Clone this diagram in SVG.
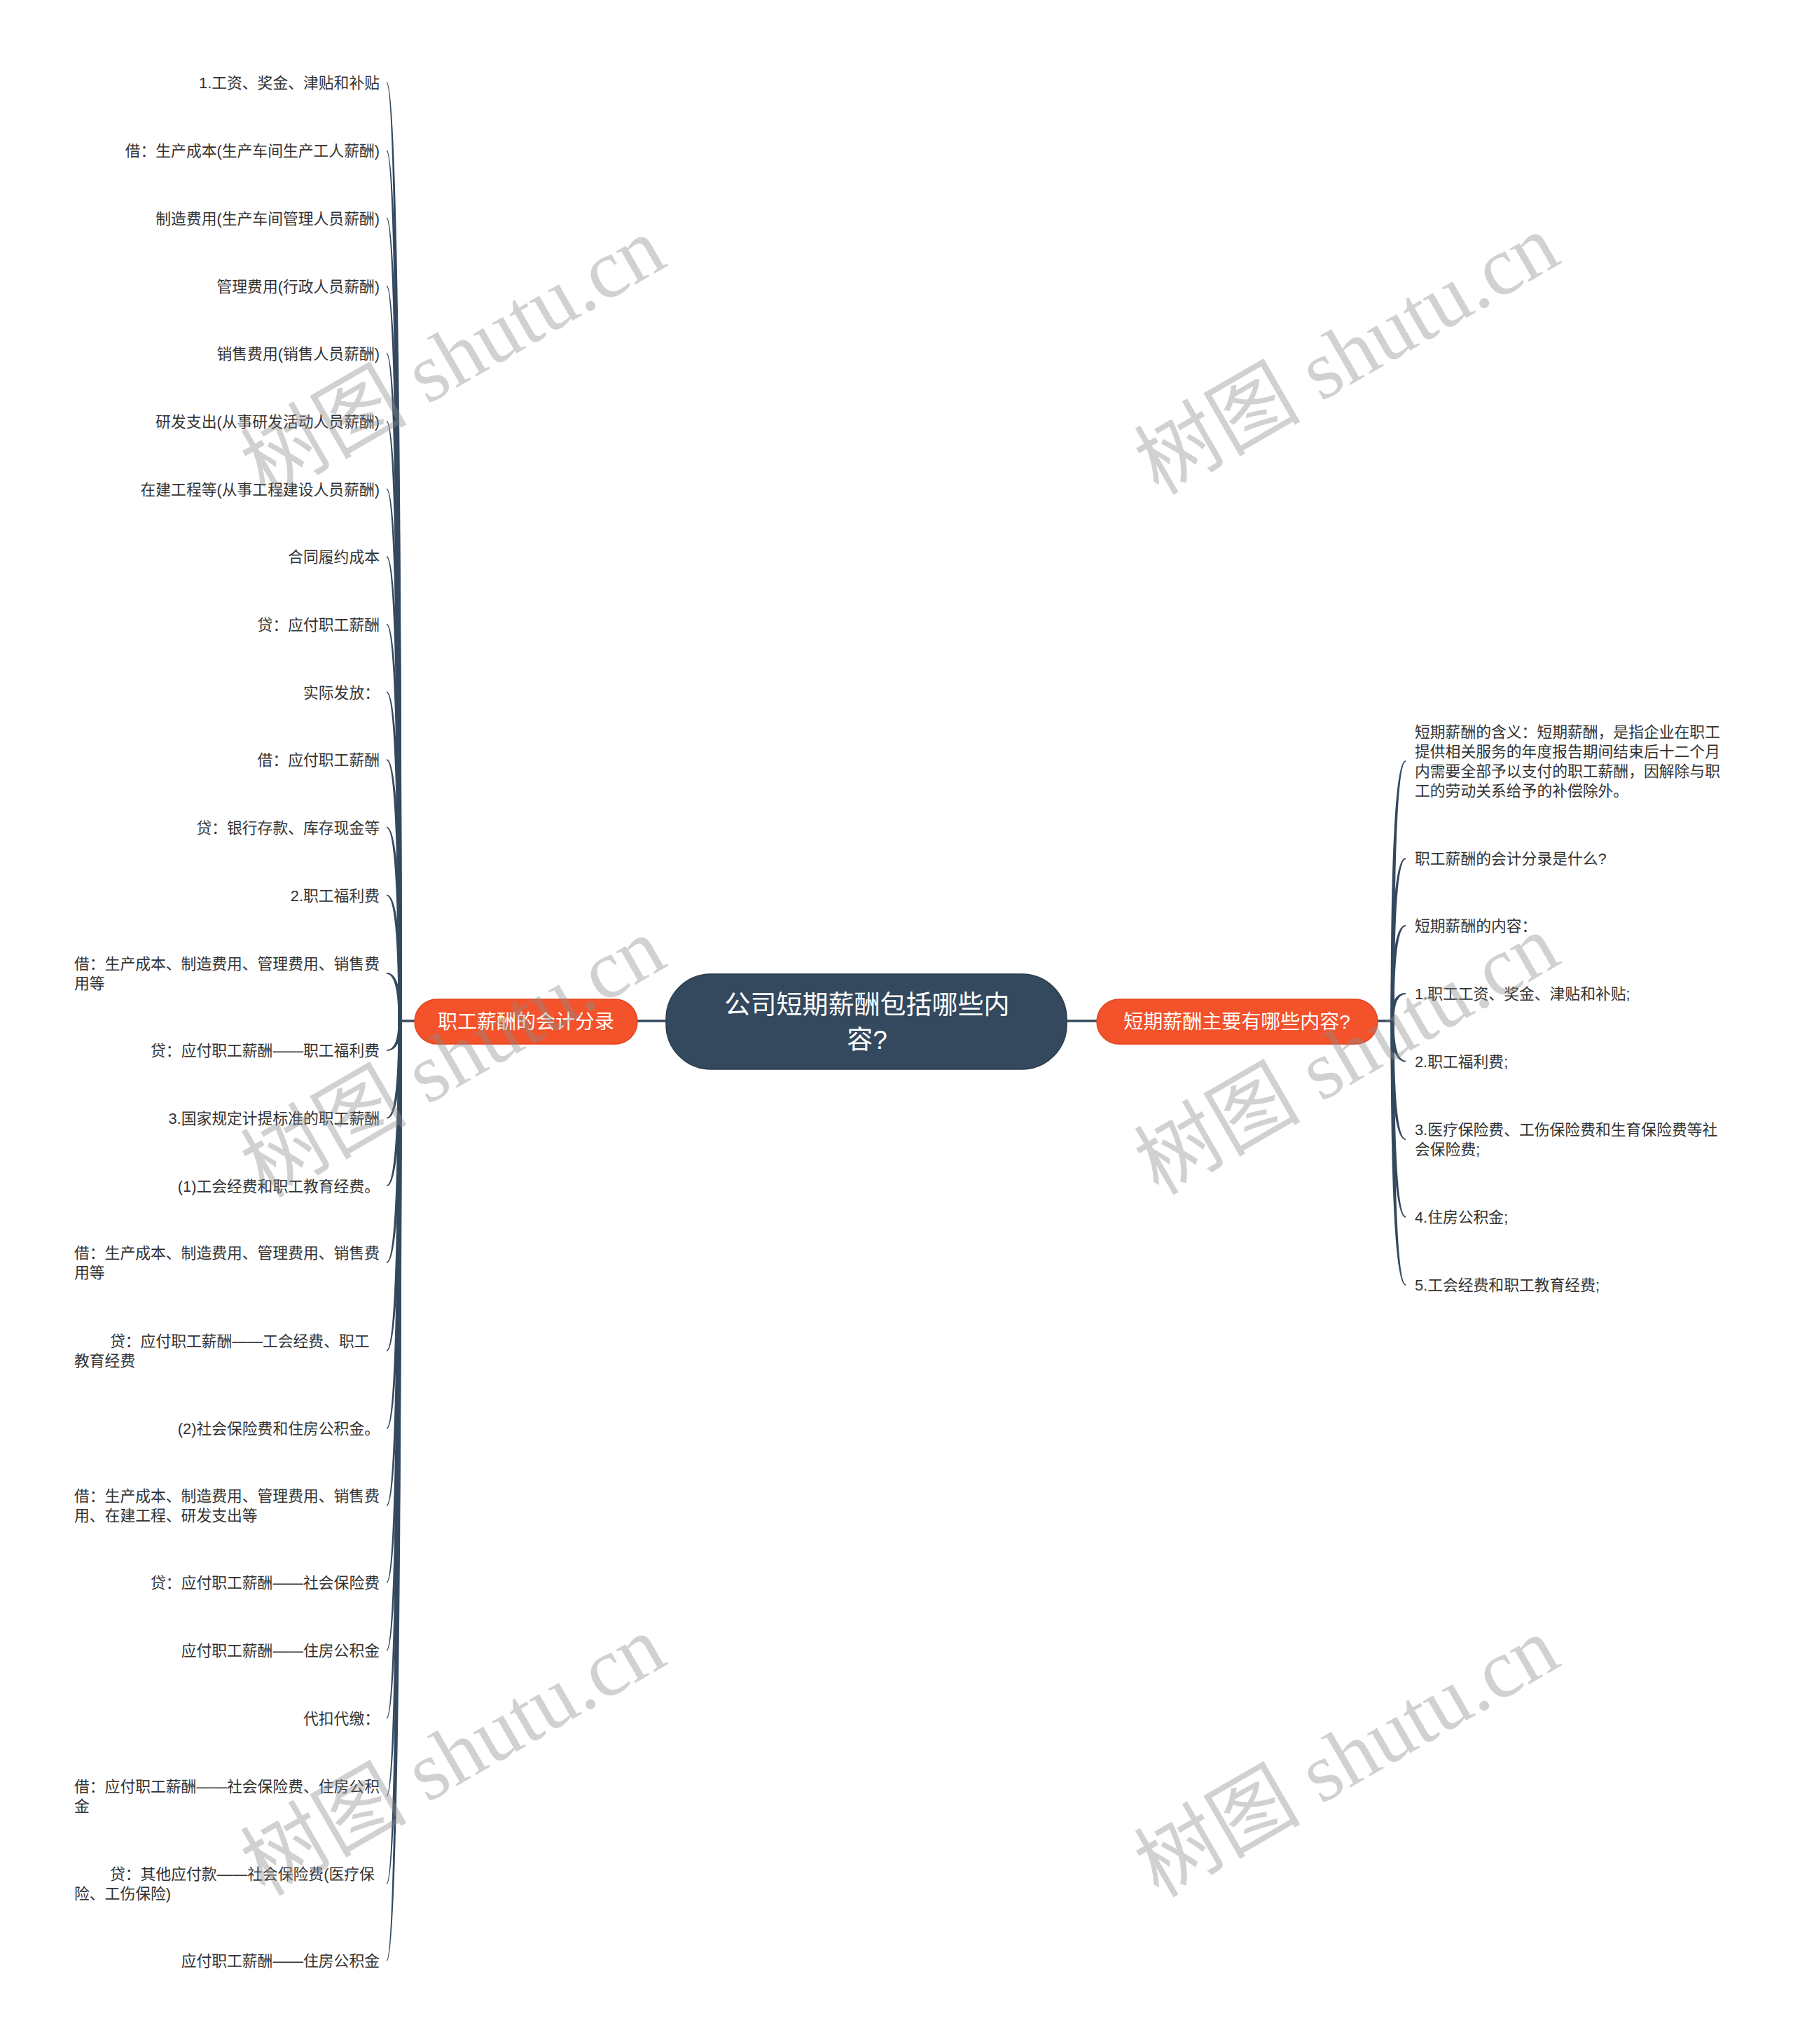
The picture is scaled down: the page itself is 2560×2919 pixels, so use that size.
<svg xmlns="http://www.w3.org/2000/svg" width="2560" height="2919" viewBox="0 0 2560 2919">
<style>
.bg{fill:#ffffff}
.t{font-family:"Liberation Sans","Noto Sans CJK SC",sans-serif;font-size:21.8px;fill:#333333}
.l{text-anchor:end}
.c{fill:#34495e}
.line{fill:none;stroke:#34495e;stroke-width:3.5}
.root{fill:#34495e;stroke:#2a3b4c;stroke-width:1.5}
.br{fill:#f4522b;stroke:#e2451f;stroke-width:1.5}
.rt{font-family:"Liberation Sans","Noto Sans CJK SC",sans-serif;font-size:37px;fill:#ffffff;text-anchor:middle}
.bt{font-family:"Liberation Sans","Noto Sans CJK SC",sans-serif;font-size:28px;fill:#ffffff;text-anchor:middle}
.wm{font-family:"Liberation Serif","Noto Sans CJK SC",serif;font-size:119px;fill:#8c8c8c;fill-opacity:0.4;text-anchor:middle}
</style>
<rect class="bg" x="0" y="0" width="2560" height="2919"/>
<g id="connectors">
<line class="line" x1="910" y1="1458" x2="951" y2="1458"/>
<line class="line" x1="1523" y1="1458" x2="1566" y2="1458"/>
<line class="line" x1="592" y1="1458" x2="570" y2="1458"/>
<line class="line" x1="1967" y1="1458" x2="1989" y2="1458"/>
<path class="c" d="M568.5 1458Q568.5 118.9 552 118.9L552 117.1Q573.5 117.1 573.5 1458Z"/>
<path class="c" d="M568.5 1458Q568.5 215.9 552 215.9L552 214.1Q573.5 214.1 573.5 1458Z"/>
<path class="c" d="M568.5 1458Q568.5 312.4 552 312.4L552 310.6Q573.5 310.6 573.5 1458Z"/>
<path class="c" d="M568.5 1458Q568.5 409.2 552 409.2L552 407.4Q573.5 407.4 573.5 1458Z"/>
<path class="c" d="M568.5 1458Q568.5 505.9 552 505.9L552 504.1Q573.5 504.1 573.5 1458Z"/>
<path class="c" d="M568.5 1458Q568.5 602.6 552 602.6L552 600.8Q573.5 600.8 573.5 1458Z"/>
<path class="c" d="M568.5 1458Q568.5 699.2 552 699.2L552 697.4Q573.5 697.4 573.5 1458Z"/>
<path class="c" d="M568.5 1458Q568.5 795.9 552 795.9L552 794.1Q573.5 794.1 573.5 1458Z"/>
<path class="c" d="M568.5 1458Q568.5 892.6 552 892.6L552 890.8Q573.5 890.8 573.5 1458Z"/>
<path class="c" d="M568.5 1458Q568.5 989.2 552 989.2L552 987.4Q573.5 987.4 573.5 1458Z"/>
<path class="c" d="M568.5 1458Q568.5 1085.9 552 1085.9L552 1084.1Q573.5 1084.1 573.5 1458Z"/>
<path class="c" d="M568.5 1458Q568.5 1182.6 552 1182.6L552 1180.8Q573.5 1180.8 573.5 1458Z"/>
<path class="c" d="M568.5 1458Q568.5 1279.2 552 1279.2L552 1277.4Q573.5 1277.4 573.5 1458Z"/>
<path class="c" d="M568.5 1458Q568.5 1390.9 552 1390.9L552 1389.1Q573.5 1389.1 573.5 1458Z"/>
<path class="c" d="M568.5 1458Q568.5 1499.1 552 1499.1L552 1500.9Q573.5 1500.9 573.5 1458Z"/>
<path class="c" d="M568.5 1458Q568.5 1595.8 552 1595.8L552 1597.6Q573.5 1597.6 573.5 1458Z"/>
<path class="c" d="M568.5 1458Q568.5 1692.4 552 1692.4L552 1694.2Q573.5 1694.2 573.5 1458Z"/>
<path class="c" d="M568.5 1458Q568.5 1802.1 552 1802.1L552 1803.9Q573.5 1803.9 573.5 1458Z"/>
<path class="c" d="M568.5 1458Q568.5 1928.1 552 1928.1L552 1929.9Q573.5 1929.9 573.5 1458Z"/>
<path class="c" d="M568.5 1458Q568.5 2039.1 552 2039.1L552 2040.9Q573.5 2040.9 573.5 1458Z"/>
<path class="c" d="M568.5 1458Q568.5 2149.1 552 2149.1L552 2150.9Q573.5 2150.9 573.5 1458Z"/>
<path class="c" d="M568.5 1458Q568.5 2259.1 552 2259.1L552 2260.9Q573.5 2260.9 573.5 1458Z"/>
<path class="c" d="M568.5 1458Q568.5 2356.1 552 2356.1L552 2357.9Q573.5 2357.9 573.5 1458Z"/>
<path class="c" d="M568.5 1458Q568.5 2452.6 552 2452.6L552 2454.4Q573.5 2454.4 573.5 1458Z"/>
<path class="c" d="M568.5 1458Q568.5 2564.1 552 2564.1L552 2565.9Q573.5 2565.9 573.5 1458Z"/>
<path class="c" d="M568.5 1458Q568.5 2689.1 552 2689.1L552 2690.9Q573.5 2690.9 573.5 1458Z"/>
<path class="c" d="M568.5 1458Q568.5 2799.1 552 2799.1L552 2800.9Q573.5 2800.9 573.5 1458Z"/>
<path class="c" d="M1990.5 1458Q1990.5 1087.9 2007 1087.9L2007 1086.1Q1985.5 1086.1 1985.5 1458Z"/>
<path class="c" d="M1990.5 1458Q1990.5 1226.9 2007 1226.9L2007 1225.1Q1985.5 1225.1 1985.5 1458Z"/>
<path class="c" d="M1990.5 1458Q1990.5 1322.9 2007 1322.9L2007 1321.1Q1985.5 1321.1 1985.5 1458Z"/>
<path class="c" d="M1990.5 1458Q1990.5 1419.9 2007 1419.9L2007 1418.1Q1985.5 1418.1 1985.5 1458Z"/>
<path class="c" d="M1990.5 1458Q1990.5 1514.6 2007 1514.6L2007 1516.4Q1985.5 1516.4 1985.5 1458Z"/>
<path class="c" d="M1990.5 1458Q1990.5 1626.1 2007 1626.1L2007 1627.9Q1985.5 1627.9 1985.5 1458Z"/>
<path class="c" d="M1990.5 1458Q1990.5 1737.1 2007 1737.1L2007 1738.9Q1985.5 1738.9 1985.5 1458Z"/>
<path class="c" d="M1990.5 1458Q1990.5 1834.1 2007 1834.1L2007 1835.9Q1985.5 1835.9 1985.5 1458Z"/>
</g>
<g id="root">
<rect class="root" x="951" y="1391" width="572" height="136" rx="64" ry="64"/>
<text class="rt" x="1238" y="1448">公司短期薪酬包括哪些内</text>
<text class="rt" x="1238" y="1498">容?</text>
</g>
<g id="branch-left">
<rect class="br" x="592" y="1427" width="318" height="64" rx="32" ry="32"/>
<text class="bt" x="751" y="1469">职工薪酬的会计分录</text>
</g>
<g id="branch-right">
<rect class="br" x="1566" y="1427" width="401" height="64" rx="32" ry="32"/>
<text class="bt" x="1766" y="1469">短期薪酬主要有哪些内容?</text>
</g>
<g id="left-items">
<g id="l1"><text class="t l" x="542" y="126.3">1.工资、奖金、津贴和补贴</text></g>
<g id="l2"><text class="t l" x="542" y="223.3">借：生产成本(生产车间生产工人薪酬)</text></g>
<g id="l3"><text class="t l" x="542" y="319.8">制造费用(生产车间管理人员薪酬)</text></g>
<g id="l4"><text class="t l" x="542" y="416.6">管理费用(行政人员薪酬)</text></g>
<g id="l5"><text class="t l" x="542" y="513.3">销售费用(销售人员薪酬)</text></g>
<g id="l6"><text class="t l" x="542" y="610">研发支出(从事研发活动人员薪酬)</text></g>
<g id="l7"><text class="t l" x="542" y="706.6">在建工程等(从事工程建设人员薪酬)</text></g>
<g id="l8"><text class="t l" x="542" y="803.3">合同履约成本</text></g>
<g id="l9"><text class="t l" x="542" y="900">贷：应付职工薪酬</text></g>
<g id="l10"><text class="t l" x="542" y="996.6">实际发放：</text></g>
<g id="l11"><text class="t l" x="542" y="1093.3">借：应付职工薪酬</text></g>
<g id="l12"><text class="t l" x="542" y="1190">贷：银行存款、库存现金等</text></g>
<g id="l13"><text class="t l" x="542" y="1286.6">2.职工福利费</text></g>
<g id="l14"><text class="t" x="106" y="1384.4">借：生产成本、制造费用、管理费用、销售费</text><text class="t" x="106" y="1412.2">用等</text></g>
<g id="l15"><text class="t l" x="542" y="1508.3">贷：应付职工薪酬——职工福利费</text></g>
<g id="l16"><text class="t l" x="542" y="1605">3.国家规定计提标准的职工薪酬</text></g>
<g id="l17"><text class="t l" x="542" y="1701.6">(1)工会经费和职工教育经费。</text></g>
<g id="l18"><text class="t" x="106" y="1797.4">借：生产成本、制造费用、管理费用、销售费</text><text class="t" x="106" y="1825.2">用等</text></g>
<g id="l19"><text class="t" x="157" y="1923.4">贷：应付职工薪酬——工会经费、职工</text><text class="t" x="106" y="1951.2">教育经费</text></g>
<g id="l20"><text class="t l" x="542" y="2048.3">(2)社会保险费和住房公积金。</text></g>
<g id="l21"><text class="t" x="106" y="2144.4">借：生产成本、制造费用、管理费用、销售费</text><text class="t" x="106" y="2172.2">用、在建工程、研发支出等</text></g>
<g id="l22"><text class="t l" x="542" y="2268.3">贷：应付职工薪酬——社会保险费</text></g>
<g id="l23"><text class="t l" x="542" y="2365.3">应付职工薪酬——住房公积金</text></g>
<g id="l24"><text class="t l" x="542" y="2461.8">代扣代缴：</text></g>
<g id="l25"><text class="t" x="106" y="2559.4">借：应付职工薪酬——社会保险费、住房公积</text><text class="t" x="106" y="2587.2">金</text></g>
<g id="l26"><text class="t" x="157" y="2684.4">贷：其他应付款——社会保险费(医疗保</text><text class="t" x="106" y="2712.2">险、工伤保险)</text></g>
<g id="l27"><text class="t l" x="542" y="2808.3">应付职工薪酬——住房公积金</text></g>
</g>
<g id="right-items">
<g id="r1"><text class="t" x="2020" y="1053.3">短期薪酬的含义：短期薪酬，是指企业在职工</text><text class="t" x="2020" y="1081.3">提供相关服务的年度报告期间结束后十二个月</text><text class="t" x="2020" y="1109.3">内需要全部予以支付的职工薪酬，因解除与职</text><text class="t" x="2020" y="1137.3">工的劳动关系给予的补偿除外。</text></g>
<g id="r2"><text class="t" x="2020" y="1234.3">职工薪酬的会计分录是什么?</text></g>
<g id="r3"><text class="t" x="2020" y="1330.3">短期薪酬的内容：</text></g>
<g id="r4"><text class="t" x="2020" y="1427.3">1.职工工资、奖金、津贴和补贴;</text></g>
<g id="r5"><text class="t" x="2020" y="1523.8">2.职工福利费;</text></g>
<g id="r6"><text class="t" x="2020" y="1621.3">3.医疗保险费、工伤保险费和生育保险费等社</text><text class="t" x="2020" y="1649.3">会保险费;</text></g>
<g id="r7"><text class="t" x="2020" y="1746.3">4.住房公积金;</text></g>
<g id="r8"><text class="t" x="2020" y="1843.3">5.工会经费和职工教育经费;</text></g>
</g>
<g id="watermarks">
<text class="wm" transform="translate(667 545) rotate(-30)">树图 shutu.cn</text>
<text class="wm" transform="translate(1943 541) rotate(-30)">树图 shutu.cn</text>
<text class="wm" transform="translate(667 1545) rotate(-30)">树图 shutu.cn</text>
<text class="wm" transform="translate(1943 1541) rotate(-30)">树图 shutu.cn</text>
<text class="wm" transform="translate(667 2542) rotate(-30)">树图 shutu.cn</text>
<text class="wm" transform="translate(1943 2544) rotate(-30)">树图 shutu.cn</text>
</g>
</svg>
